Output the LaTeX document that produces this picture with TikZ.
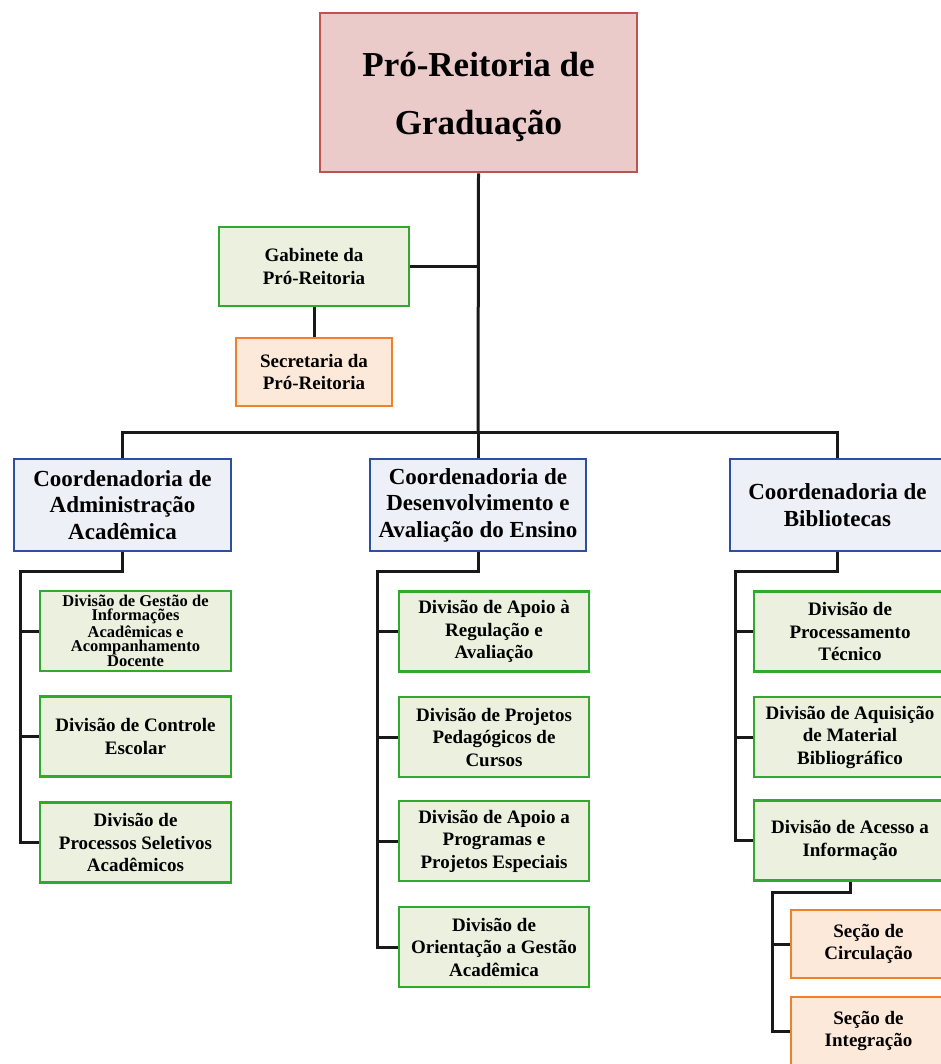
\documentclass[tikz,border=0pt]{standalone}
\usepackage{fontspec}
\setmainfont{Liberation Serif}
\definecolor{rootfill}{HTML}{EBCACA}
\definecolor{rootline}{HTML}{BD5451}
\definecolor{grnfill}{HTML}{EBF0DF}
\definecolor{grnline}{HTML}{2FAA2F}
\definecolor{orgfill}{HTML}{FDE9D9}
\definecolor{orgline}{HTML}{F2802A}
\definecolor{blufill}{HTML}{EDF0F6}
\definecolor{bluline}{HTML}{2C4FA0}
\tikzset{
  unitbox/.style={draw, line width=2.7pt, inner sep=0pt, align=center,
    font=\bfseries\fontsize{19}{22.5}\selectfont},
  rootbox/.style={unitbox, fill=rootfill, draw=rootline,
    minimum width=317pt, minimum height=159pt},
  roottext/.style={align=center, inner sep=0pt,
    font=\bfseries\fontsize{35}{58}\selectfont},
  coordbox/.style={unitbox, fill=blufill, draw=bluline,
    minimum width=216pt, minimum height=92pt,
    font=\bfseries\fontsize{23}{26.5}\selectfont},
  divbox/.style={unitbox, fill=grnfill, draw=grnline,
    minimum width=191pt, minimum height=80pt},
  secbox/.style={unitbox, fill=orgfill, draw=orgline,
    minimum width=156pt, minimum height=68pt},
  link/.style={draw=black!90, line width=3pt}
}
\begin{document}
\begin{tikzpicture}[x=1pt, y=-1pt]
\useasboundingbox (0,0) rectangle (941,1064);

% top level
\node[rootbox] (prg) at (478.5,92.5) {};
\node[roottext] (prgtext) at (478.5,97) {Pró-Reitoria de\\Graduação};
\node[divbox, minimum width=190pt, minimum height=79pt] (gab) at (314,266.5) {Gabinete da\\Pró-Reitoria};
\node[secbox] (sec) at (314,372) {Secretaria da\\Pró-Reitoria};

% coordinations
\node[coordbox, minimum width=217pt] (cA) at (122.5,505) {Coordenadoria de\\Administração\\Acadêmica};
\node[coordbox] (cB) at (478,505) {Coordenadoria de\\Desenvolvimento e\\Avaliação do Ensino};
\node[coordbox, minimum width=215pt] (cC) at (837.5,505) {Coordenadoria de\\Bibliotecas};

% divisions under the first coordination
\node[divbox, font=\bfseries\fontsize{16.5}{14.3}\selectfont] (a1) at (135.5,631)
  {Divisão de Gestão de\\Informações\\Acadêmicas e\\Acompanhamento\\Docente};
\node[divbox] (a2) at (135.5,736.5) {Divisão de Controle\\Escolar};
\node[divbox] (a3) at (135.5,842.5) {Divisão de\\Processos Seletivos\\Acadêmicos};

% divisions under the second coordination
\node[divbox, minimum width=190pt] (b1) at (494,631.5) {Divisão de Apoio à\\Regulação e\\Avaliação};
\node[divbox, minimum width=190pt] (b2) at (494,737) {Divisão de Projetos\\Pedagógicos de\\Cursos};
\node[divbox, minimum width=190pt] (b3) at (494,841) {Divisão de Apoio a\\Programas e\\Projetos Especiais};
\node[divbox, minimum width=190pt] (b4) at (494,947) {Divisão de\\Orientação a Gestão\\Acadêmica};

% divisions under the library coordination
\node[divbox, minimum width=192pt] (c1) at (850,631.5) {Divisão de\\Processamento\\Técnico};
\node[divbox, minimum width=192pt] (c2) at (850,737) {Divisão de Aquisição\\de Material\\Bibliográfico};
\node[divbox, minimum width=192pt] (c3) at (850,840.5) {Divisão de Acesso a\\Informação};

% sections
\node[secbox, minimum width=155pt] (s1) at (868.5,944) {Seção de\\Circulação};
\node[secbox, minimum width=155pt] (s2) at (868.5,1031) {Seção de\\Integração};

% junction points
\coordinate (bus) at (478,432);
\coordinate (aJ) at (20,571);
\coordinate (bJ) at (377,571);
\coordinate (cJ) at (735,571);
\coordinate (sJ) at (772,892);

% connectors
\draw[link] (prg.south) -- (bus);
\draw[link] (gab.east) -- (gab.east -| bus);
\draw[link] (gab.south) -- (sec.north);
\draw[link] (cA.north) |- (bus) -| (cC.north);
\draw[link] (bus) -- (cB.north);

\draw[link] (cA.south) |- (aJ) |- (a3.west);
\draw[link] (aJ |- a1.west) -- (a1.west);
\draw[link] (aJ |- a2.west) -- (a2.west);

\draw[link] (cB.south) |- (bJ) |- (b4.west);
\draw[link] (bJ |- b1.west) -- (b1.west);
\draw[link] (bJ |- b2.west) -- (b2.west);
\draw[link] (bJ |- b3.west) -- (b3.west);

\draw[link] (cC.south) |- (cJ) |- (c3.west);
\draw[link] (cJ |- c1.west) -- (c1.west);
\draw[link] (cJ |- c2.west) -- (c2.west);

\draw[link] (c3.south) |- (sJ) |- (s2.west);
\draw[link] (sJ |- s1.west) -- (s1.west);
\end{tikzpicture}
\end{document}
